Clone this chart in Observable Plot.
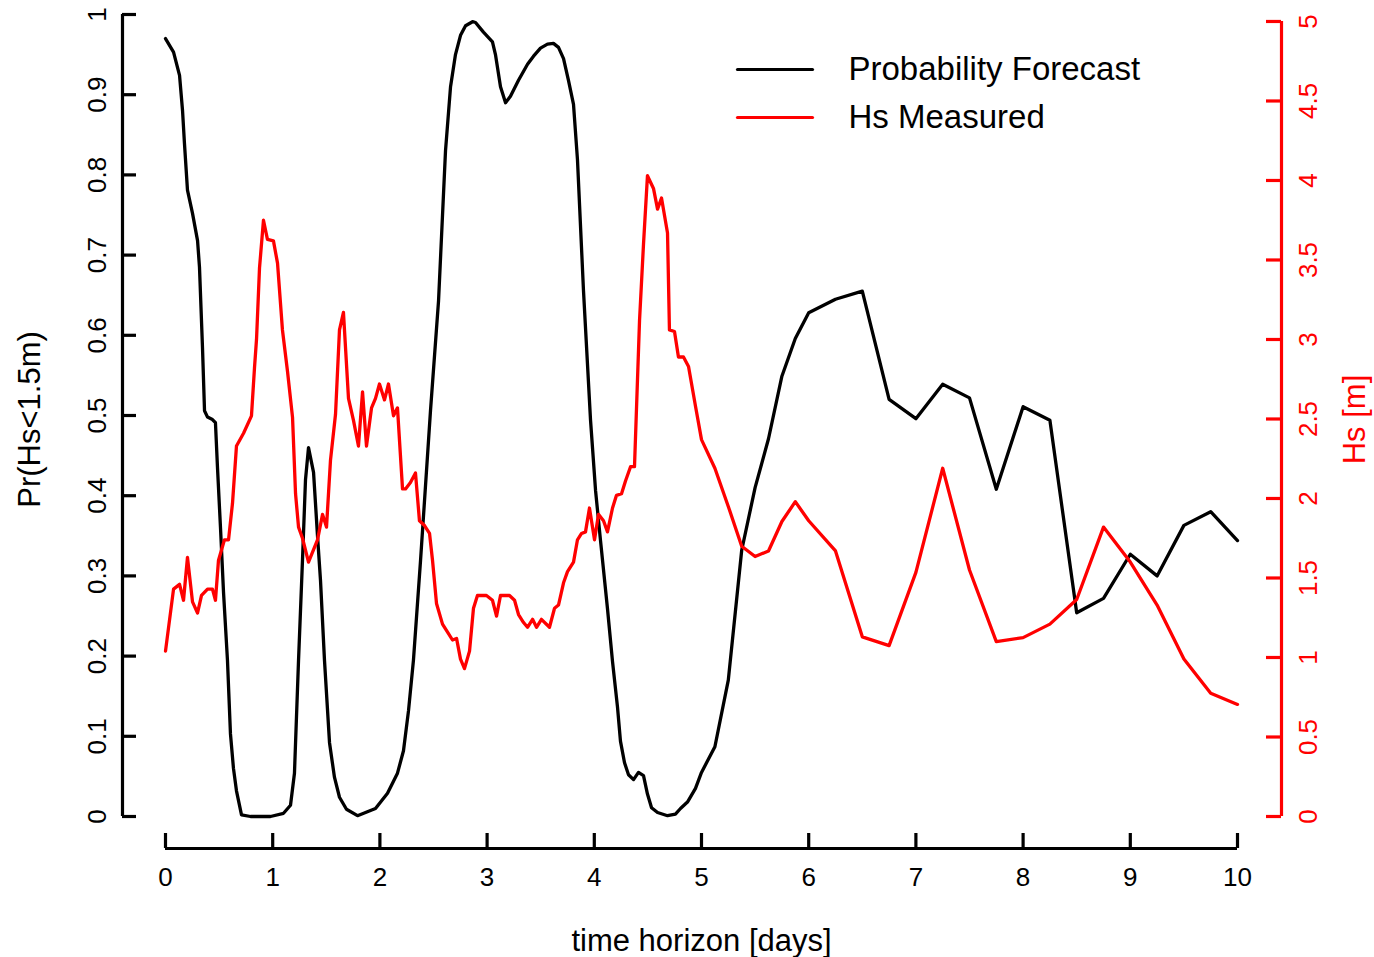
<!DOCTYPE html>
<html><head><meta charset="utf-8">
<script src="https://cdn.jsdelivr.net/npm/d3@7"></script>
<script src="https://cdn.jsdelivr.net/npm/@observablehq/plot@0.6"></script>
<style>html,body{margin:0;padding:0;background:#fff;overflow:hidden;} svg{display:block;}</style>
</head><body><div id="chart"></div>
<script>
// ---- data ----
const forecastDays = [0.000,0.075,0.131,0.159,0.177,0.205,0.252,0.299,0.317,0.345,0.364,0.392,0.438,0.466,0.485,0.513,0.541,0.578,0.606,0.634,0.662,0.709,0.793,0.886,0.979,1.101,1.166,1.203,1.241,1.278,1.306,1.334,1.381,1.418,1.446,1.483,1.530,1.576,1.623,1.688,1.791,1.866,1.959,2.071,2.164,2.220,2.267,2.313,2.379,2.472,2.547,2.612,2.659,2.705,2.752,2.799,2.864,2.892,2.966,3.050,3.078,3.125,3.172,3.218,3.293,3.377,3.433,3.498,3.563,3.619,3.666,3.713,3.759,3.806,3.843,3.899,3.965,4.012,4.058,4.123,4.170,4.216,4.244,4.282,4.319,4.366,4.412,4.459,4.496,4.534,4.590,4.683,4.757,4.804,4.869,4.944,5.000,5.125,5.250,5.375,5.500,5.625,5.750,5.875,6.000,6.250,6.500,6.750,7.000,7.250,7.500,7.750,8.000,8.250,8.500,8.750,9.000,9.250,9.500,9.750,10.000];
const forecastProb = [0.970,0.953,0.924,0.880,0.839,0.781,0.752,0.718,0.685,0.585,0.506,0.498,0.495,0.491,0.435,0.360,0.280,0.195,0.103,0.060,0.032,0.002,0.000,0.000,0.000,0.004,0.014,0.054,0.195,0.320,0.420,0.460,0.429,0.350,0.294,0.195,0.092,0.049,0.024,0.009,0.001,0.005,0.010,0.029,0.054,0.082,0.132,0.195,0.319,0.506,0.643,0.830,0.910,0.950,0.974,0.986,0.991,0.990,0.978,0.966,0.950,0.910,0.890,0.898,0.918,0.938,0.948,0.958,0.963,0.964,0.959,0.945,0.918,0.888,0.819,0.656,0.494,0.406,0.344,0.259,0.193,0.137,0.094,0.067,0.052,0.046,0.055,0.051,0.028,0.011,0.005,0.001,0.003,0.010,0.018,0.035,0.055,0.087,0.170,0.332,0.410,0.471,0.549,0.596,0.628,0.645,0.655,0.520,0.496,0.539,0.522,0.408,0.511,0.494,0.254,0.272,0.327,0.300,0.363,0.380,0.344];

const hsDays = [0.000,0.075,0.131,0.168,0.205,0.252,0.299,0.336,0.392,0.438,0.466,0.494,0.550,0.588,0.625,0.662,0.728,0.802,0.830,0.849,0.877,0.914,0.951,1.007,1.045,1.091,1.138,1.185,1.213,1.241,1.278,1.334,1.418,1.465,1.502,1.539,1.586,1.623,1.660,1.707,1.754,1.800,1.838,1.875,1.922,1.959,1.996,2.043,2.080,2.127,2.164,2.211,2.239,2.285,2.332,2.369,2.416,2.463,2.491,2.528,2.584,2.631,2.677,2.715,2.752,2.789,2.836,2.873,2.910,2.994,3.050,3.088,3.125,3.209,3.256,3.293,3.340,3.377,3.424,3.461,3.507,3.582,3.629,3.666,3.713,3.750,3.806,3.843,3.881,3.918,3.955,4.002,4.039,4.086,4.123,4.170,4.207,4.254,4.291,4.338,4.375,4.422,4.459,4.496,4.552,4.590,4.627,4.683,4.701,4.748,4.785,4.832,4.879,4.944,5.000,5.125,5.250,5.375,5.500,5.625,5.750,5.875,6.000,6.250,6.500,6.750,7.000,7.250,7.500,7.750,8.000,8.250,8.500,8.750,9.000,9.250,9.500,9.750,10.000];
const hsMeasured = [1.04,1.43,1.46,1.36,1.63,1.35,1.28,1.39,1.43,1.43,1.36,1.61,1.74,1.74,1.97,2.33,2.41,2.52,2.82,3.00,3.45,3.75,3.63,3.62,3.48,3.06,2.80,2.51,2.03,1.82,1.75,1.60,1.74,1.90,1.82,2.24,2.53,3.06,3.17,2.63,2.49,2.33,2.67,2.33,2.57,2.63,2.72,2.62,2.72,2.52,2.57,2.06,2.06,2.10,2.16,1.86,1.83,1.78,1.61,1.34,1.21,1.16,1.11,1.12,0.99,0.93,1.04,1.31,1.39,1.39,1.36,1.26,1.39,1.39,1.36,1.27,1.22,1.19,1.24,1.19,1.24,1.19,1.31,1.33,1.47,1.54,1.60,1.74,1.78,1.79,1.94,1.74,1.90,1.86,1.79,1.94,2.02,2.03,2.11,2.20,2.20,3.12,3.60,4.03,3.95,3.82,3.89,3.67,3.06,3.05,2.89,2.89,2.83,2.58,2.37,2.19,1.95,1.70,1.635,1.67,1.855,1.98,1.86,1.67,1.13,1.075,1.535,2.19,1.55,1.10,1.125,1.21,1.365,1.82,1.60,1.33,0.99,0.775,0.705];

const xTicks = [0,1,2,3,4,5,6,7,8,9,10];
const probTicks = [0,0.1,0.2,0.3,0.4,0.5,0.6,0.7,0.8,0.9,1];
const hsTicks = [0,0.5,1,1.5,2,2.5,3,3.5,4,4.5,5];
const legendLabels = ["Probability Forecast", "Hs Measured"];
const legendColors = ["black", "red"];
const xTitle = "time horizon [days]";
const leftTitle = "Pr(Hs<1.5m)";
const rightTitle = "Hs [m]";

// right axis (Hs, 0..5) drawn on the left probability scale
const hsTop = 0.9913; // probability-scale value at which Hs = 5 sits
const hsToY = (h) => h * hsTop / 5;

const forecast = forecastDays.map((d, i) => ({day: d, value: forecastProb[i]}));
const hs = hsDays.map((d, i) => ({day: d, value: hsToY(hsMeasured[i])}));

const W = 1374, H = 957;
const mL = 165, mR = 137, mT = 14, mB = 141;
const pw = W - mL - mR, ph = H - mT - mB;
const font = "Liberation Sans, Arial, Helvetica, sans-serif";
const lineShape = {draw(context, l) { context.moveTo(0, 0); context.lineTo(0, -l); }};
const axW = 3.2, dataW = 3.3;
const lab = {textAnchor: "middle", lineAnchor: "middle"};

const chart = Plot.plot({
  width: W, height: H,
  marginLeft: mL, marginRight: mR, marginTop: mT, marginBottom: mB,
  x: {domain: [0, 10], axis: null},
  y: {domain: [0, 1], axis: null},
  style: {fontFamily: font, background: "white", overflow: "visible"},
  marks: [
    // data lines
    Plot.line(forecast, {x: "day", y: "value", stroke: "black", strokeWidth: dataW, strokeLinejoin: "round", strokeLinecap: "round"}),
    Plot.line(hs, {x: "day", y: "value", stroke: "red", strokeWidth: dataW, strokeLinejoin: "round", strokeLinecap: "round"}),

    // left axis
    Plot.ruleX([0], {y1: 0, y2: 1, dx: -43, stroke: "black", strokeWidth: axW}),
    Plot.tickY(probTicks, {y: d => d, dx: -43, insetRight: pw - 14, stroke: "black", strokeWidth: axW}),
    Plot.text(probTicks, {y: d => d, text: d => String(d), frameAnchor: "left", dx: -68, rotate: -90, fontSize: 26, fill: "black", ...lab}),

    // right axis
    Plot.ruleX([10], {y1: 0, y2: hsToY(5), dx: 44, stroke: "red", strokeWidth: axW}),
    Plot.tickY(hsTicks, {y: d => hsToY(d), dx: 44, insetLeft: pw - 15, stroke: "red", strokeWidth: axW}),
    Plot.text(hsTicks, {y: d => hsToY(d), text: d => String(d), frameAnchor: "right", dx: 71, rotate: -90, fontSize: 26, fill: "red", ...lab}),

    // bottom axis
    Plot.ruleY([0], {x1: 0, x2: 10, dy: 32, stroke: "black", strokeWidth: axW}),
    Plot.tickX(xTicks, {x: d => d, dy: 32, insetTop: ph - 15, stroke: "black", strokeWidth: axW}),
    Plot.text(xTicks, {x: d => d, text: d => String(d), frameAnchor: "bottom", dy: 61, fontSize: 26, fill: "black", ...lab}),

    // axis titles
    Plot.text([xTitle], {text: d => d, frameAnchor: "bottom", dy: 125, fontSize: 31, fill: "black", ...lab}),
    Plot.text([leftTitle], {text: d => d, frameAnchor: "left", dx: -135, dy: 4, rotate: -90, fontSize: 31, fill: "black", ...lab}),
    Plot.text([rightTitle], {text: d => d, frameAnchor: "right", dx: 118, dy: 4, rotate: -90, fontSize: 31, fill: "red", ...lab}),

    // legend
    ...legendLabels.flatMap((label, i) => [
      Plot.vector([label], {frameAnchor: "top-left", dx: 737 - mL, dy: 55 + i * 48, length: 75, rotate: 90, anchor: "start", shape: lineShape, stroke: legendColors[i], strokeWidth: axW}),
      Plot.text([label], {text: d => d, frameAnchor: "top-left", dx: 848 - mL, dy: 55 + i * 48, textAnchor: "start", lineAnchor: "middle", fontSize: 33, fill: "black"})
    ])
  ]
});
document.getElementById("chart").appendChild(chart);
</script>
</body></html>
